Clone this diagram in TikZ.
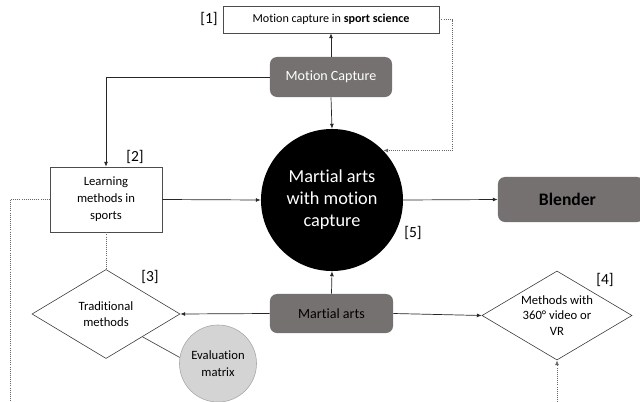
\documentclass[tikz,border=0pt]{standalone}
\usepackage{fontspec}
\setmainfont{Carlito}[Ligatures=NoCommon]
\usepackage{xcolor}
\usepackage{tikz}
\usetikzlibrary{arrows.meta}
\usetikzlibrary{shapes.geometric}

\definecolor{boxgray}{HTML}{767171}
\definecolor{evalgray}{HTML}{D4D4D4}
\definecolor{evalline}{HTML}{A6A6A6}

\tikzset{
  plainbox/.style={rectangle,draw=black!70,fill=white,inner sep=0pt,align=center},
  graybox/.style={rectangle,rounded corners=5pt,fill=boxgray,inner sep=0pt,align=center},
  choice/.style={diamond,draw=black!80,fill=white,inner sep=0pt,aspect=1.66,align=center,font=\fontsize{9}{11}\selectfont},
  tag/.style={inner sep=0pt,font=\fontsize{11}{13}\selectfont},
  link/.style={draw=black!85,line width=0.5pt,-{Latex[length=3.5pt,width=2.8pt]}},
  hint/.style={draw=black!60,line width=0.5pt,densely dotted},
}

\begin{document}
\begin{tikzpicture}[x=0.025cm,y=-0.025cm]
       \useasboundingbox (0,0) rectangle (640,402);

       % boxes on the top line
       \node[plainbox,minimum width=5.4cm,minimum height=0.675cm,font=\fontsize{8.6}{10}\selectfont] (sci) at (331,19.5) {Motion capture in \textbf{sport science}};
       \node[graybox,minimum width=3.05cm,minimum height=1cm,text=white,font=\fontsize{10}{12}\selectfont] (mocap) at (331,77) {Motion Capture};

       % middle line
       \node[plainbox,minimum width=2.8cm,minimum height=1.625cm,font=\fontsize{9}{12}\selectfont] (learn) at (106,199.5) {Learning\\methods in\\sports};
       \node[circle,fill=black,inner sep=0pt,minimum size=3.55cm,text=white,align=center,font=\fontsize{13}{15.6}\selectfont] (core) at (332,200) {Martial arts\\with motion\\capture};
       \node[graybox,minimum width=3.65cm,minimum height=1.125cm,font=\fontsize{12.5}{14}\selectfont\bfseries] (blender) at (571,199.5) {\hspace*{-5pt}Blender};

       % bottom line
       \node[graybox,minimum width=3.075cm,minimum height=0.975cm,font=\fontsize{10}{12}\selectfont] (arts) at (331.5,313.5) {Martial arts};
       \node[choice,minimum width=3.7cm,minimum height=2.225cm] (trad) at (106,314) {Traditional\\methods};
       \node[choice,minimum width=3.75cm,minimum height=2.225cm] (vr) at (557,315.5) {Methods with\\360° video or\\VR};
       \node[circle,draw=evalline,fill=evalgray,inner sep=0pt,minimum size=1.925cm,align=center,font=\fontsize{9}{12}\selectfont] (eval) at (218,363.5) {Evaluation\\matrix};

       % references
       \node[tag] (tag1) at (209,19) {[1]};
       \node[tag] (tag2) at (135,157) {[2]};
       \node[tag] (tag3) at (150,277) {[3]};
       \node[tag] (tag4) at (605,280) {[4]};
       \node[tag] (tag5) at (413,233) {[5]};

       \coordinate (lfoot) at (10,402);
       \coordinate (rfoot) at (557,402);

       % connectors
       \draw[link] (mocap.north) -- (sci.south);
       \draw[link] (mocap.south) -- (core.north);
       \draw[link] (mocap.west) -| (learn.north);
       \draw[link] (learn.east) -- (core.west);
       \draw[link] (core.east) -- (blender.west);
       \draw[link] (arts.north) -- (core.south);
       \draw[link] (arts.west) -- (trad.east);
       \draw[link] (arts.east) -- (vr.west);
       \draw[draw=black!70,line width=0.5pt] (trad.-32) -- (eval.171);

       \draw[hint,-{Latex[length=3.5pt,width=2.8pt]}] (sci.east) -- ++(13,0) |- (core.44);
       \draw[hint] (learn.south) -- (trad.north);
       \draw[hint] (learn.west) -| (lfoot);
       \draw[hint,-{Latex[length=3.5pt,width=2.8pt]}] (rfoot) -- (vr.south);

\end{tikzpicture}
\end{document}
